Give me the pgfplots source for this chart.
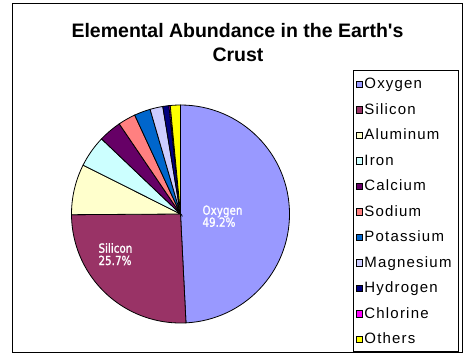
\documentclass[border=0pt]{standalone}
\usepackage{pgfplots}
\pgfplotsset{compat=1.18}
\usepackage{pgfplotstable}
\usepackage{fontspec}
\setmainfont{Liberation Sans}
\newfontfamily\legfont[LetterSpace=8]{Liberation Sans}
\newfontfamily\labfont[FakeStretch=0.83,FakeBold=1.4]{DejaVu Sans}

\definecolor{pie0}{HTML}{9999FF}
\definecolor{pie1}{HTML}{993366}
\definecolor{pie2}{HTML}{FFFFCC}
\definecolor{pie3}{HTML}{CCFFFF}
\definecolor{pie4}{HTML}{660066}
\definecolor{pie5}{HTML}{FF8080}
\definecolor{pie6}{HTML}{0066CC}
\definecolor{pie7}{HTML}{CCCCFF}
\definecolor{pie8}{HTML}{000080}
\definecolor{pie9}{HTML}{FF00FF}
\definecolor{pie10}{HTML}{FFFF00}

\pgfplotstableread[col sep=comma]{
name,value
Oxygen,49.2
Silicon,25.7
Aluminum,7.5
Iron,4.7
Calcium,3.4
Sodium,2.6
Potassium,2.4
Magnesium,1.9
Hydrogen,0.9
Chlorine,0.2
Others,1.5
}\piedata

\def\cumsum{0}%
\pgfplotsforeachungrouped \i in {0,...,10}{%
  \pgfplotstablegetelem{\i}{value}\of\piedata
  \let\curval\pgfplotsretval
  \pgfmathsetmacro\sa{90-3.6*\cumsum}%
  \pgfmathsetmacro\cumsum{\cumsum+\curval}%
  \pgfmathsetmacro\ea{90-3.6*\cumsum}%
  \expandafter\xdef\csname sA\i\endcsname{\sa}%
  \expandafter\xdef\csname eA\i\endcsname{\ea}%
  \pgfplotstablegetelem{\i}{name}\of\piedata
  \expandafter\xdef\csname nm\i\endcsname{\pgfplotsretval}%
}%

\begin{document}
\begin{tikzpicture}
\begin{axis}[
  x=1bp, y=1bp,
  xmin=0, xmax=470, ymin=0, ymax=362,
  hide axis, clip=false, scale only axis,
  legend cell align=left,
  legend image code/.code={\draw[#1] (0bp,-4.5bp) rectangle (6.7bp,2.2bp);},
  legend style={
    at={(axis cs:353,292)}, anchor=north west,
    draw=none, fill=none,
    inner xsep=2.3bp, inner ysep=4.4bp, row sep=8.5bp,
    font=\legfont\fontsize{15bp}{17bp}\selectfont,
    nodes={inner sep=0pt, text height=14bp, text depth=3bp},
    /tikz/every odd column/.append style={column sep=1.6bp},
  },
]
\path (axis cs:0,0) rectangle (axis cs:470,362);
\draw[line width=1bp] (axis cs:12.5,10) rectangle (axis cs:462.5,358);
\draw[line width=0.8bp, fill=white] (axis cs:353,10.5) rectangle (axis cs:458,292);

\pgfplotsinvokeforeach{0,...,10}{%
  \filldraw[fill=pie#1, draw=black, line width=0.8bp]
    (axis cs:180.5,148) -- ++(\csname sA#1\endcsname:109bp)
    arc[start angle=\csname sA#1\endcsname, end angle=\csname eA#1\endcsname, radius=109bp] -- cycle;
  \addlegendimage{fill=pie#1, draw=black, line width=0.6bp}
  \addlegendentryexpanded{\csname nm#1\endcsname}
}

\node[font=\bfseries\fontsize{19.5bp}{24bp}\selectfont, anchor=base, inner sep=0pt]
  at (axis cs:237.5,324.5) {Elemental Abundance in the Earth\textquotesingle s};
\node[font=\bfseries\fontsize{19.5bp}{24bp}\selectfont, anchor=base, inner sep=0pt]
  at (axis cs:238,300.5) {Crust};

\node[font=\labfont\fontsize{12.5bp}{12bp}\selectfont, text=white, anchor=base west, inner sep=0pt]
  at (axis cs:202.3,147.3) {Oxygen};
\node[font=\labfont\fontsize{12.5bp}{12bp}\selectfont, text=white, anchor=base west, inner sep=0pt]
  at (axis cs:202.3,135.3) {49.2\%};
\node[font=\labfont\fontsize{12.5bp}{12bp}\selectfont, text=white, anchor=base west, inner sep=0pt]
  at (axis cs:98.3,109.3) {Silicon};
\node[font=\labfont\fontsize{12.5bp}{12bp}\selectfont, text=white, anchor=base west, inner sep=0pt]
  at (axis cs:98.3,97) {25.7\%};
\end{axis}
\end{tikzpicture}
\end{document}
